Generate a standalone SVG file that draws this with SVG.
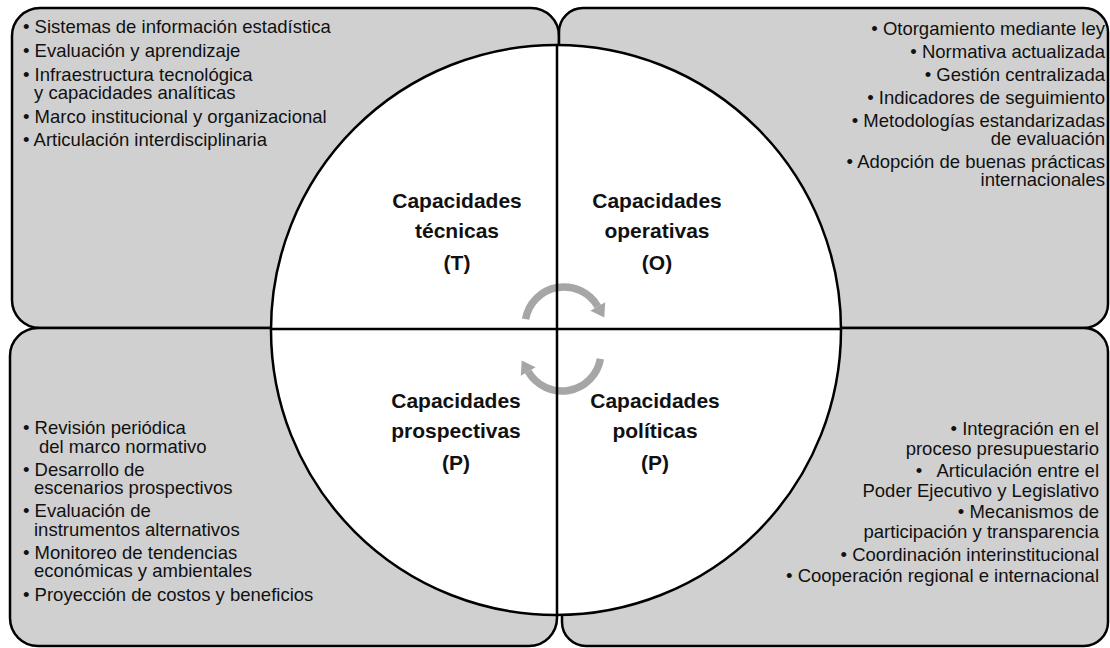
<svg xmlns="http://www.w3.org/2000/svg" width="1110" height="648" viewBox="0 0 1110 648">
<style>
.box{fill:#d0d0d0;stroke:#000;stroke-width:2.5}
.circ{fill:#fff;stroke:#000;stroke-width:2.5}
.axis{stroke:#000;stroke-width:2.5;fill:none}
.arc{fill:none;stroke:#a6a6a6;stroke-width:7.5}
.head{fill:#a6a6a6}
.t{font-family:"Liberation Sans",Arial,sans-serif;font-size:18.5px;fill:#111}
.r{text-anchor:end}
.lbl{font-family:"Liberation Sans",Arial,sans-serif;font-size:21px;font-weight:bold;fill:#111;text-anchor:middle}
</style>
<rect width="1110" height="648" fill="#fff"/>
<g id="box-tecnicas">
<rect class="box" x="12" y="8" width="547" height="320" rx="28"/>
</g>
<g id="box-operativas">
<rect class="box" x="559" y="8" width="549" height="320" rx="24"/>
</g>
<g id="box-prospectivas">
<rect class="box" x="10" y="328" width="547" height="318" rx="28"/>
</g>
<g id="box-politicas">
<rect class="box" x="562" y="328" width="546" height="318" rx="24"/>
</g>
<g id="circle">
<circle class="circ" cx="556" cy="330" r="285"/>
</g>
<g id="connectors">
<path class="arc" d="M525.6,319.2 A39,39 0 0 1 597.8,306.5"/>
<polygon class="head" points="604.3,317.5 605.2,302.3 590.4,310.8"/>
<path class="arc" d="M600.4,358.8 A39,39 0 0 1 528.2,371.5"/>
<polygon class="head" points="521.7,360.5 520.8,375.7 535.6,367.2"/>
</g>
<g id="axes">
<line class="axis" x1="557" y1="45" x2="557" y2="615"/>
<line class="axis" x1="271" y1="329" x2="841" y2="329"/>
</g>
<g id="text-tecnicas" class="t">
<text x="23" y="33">• Sistemas de información estadística</text>
<text x="23" y="57">• Evaluación y aprendizaje</text>
<text x="23" y="81">• Infraestructura tecnológica<tspan x="34" y="99">y capacidades analíticas</tspan></text>
<text x="23" y="123">• Marco institucional y organizacional</text>
<text x="23" y="146">• Articulación interdisciplinaria</text>
</g>
<g id="text-operativas" class="t r">
<text x="1105" y="35">• Otorgamiento mediante ley</text>
<text x="1105" y="58">• Normativa actualizada</text>
<text x="1105" y="81">• Gestión centralizada</text>
<text x="1105" y="104">• Indicadores de seguimiento</text>
<text x="1105" y="127">• Metodologías estandarizadas<tspan x="1105" y="145">de evaluación</tspan></text>
<text x="1105" y="168">• Adopción de buenas prácticas<tspan x="1105" y="186">internacionales</tspan></text>
</g>
<g id="text-prospectivas" class="t">
<text x="23" y="434">• Revisión periódica<tspan x="39" y="453">del marco normativo</tspan></text>
<text x="23" y="476">• Desarrollo de<tspan x="34" y="494">escenarios prospectivos</tspan></text>
<text x="23" y="517">• Evaluación de<tspan x="34" y="536">instrumentos alternativos</tspan></text>
<text x="23" y="559">• Monitoreo de tendencias<tspan x="34" y="577">económicas y ambientales</tspan></text>
<text x="23" y="601">• Proyección de costos y beneficios</text>
</g>
<g id="text-politicas" class="t r">
<text x="1099" y="435">• Integración en el<tspan x="1099" y="455">proceso presupuestario</tspan></text>
<text x="1099" y="477" xml:space="preserve">•   Articulación entre el<tspan x="1099" y="497">Poder Ejecutivo y Legislativo</tspan></text>
<text x="1099" y="518">• Mecanismos de<tspan x="1099" y="538">participación y transparencia</tspan></text>
<text x="1099" y="561">• Coordinación interinstitucional</text>
<text x="1099" y="582">• Cooperación regional e internacional</text>
</g>
<g id="label-tecnicas" class="lbl">
<text x="457" y="208">Capacidades</text>
<text x="457" y="238">técnicas</text>
<text x="457" y="270">(T)</text>
</g>
<g id="label-operativas" class="lbl">
<text x="657" y="208">Capacidades</text>
<text x="657" y="238">operativas</text>
<text x="657" y="270">(O)</text>
</g>
<g id="label-prospectivas" class="lbl">
<text x="456" y="408">Capacidades</text>
<text x="456" y="438">prospectivas</text>
<text x="456" y="470">(P)</text>
</g>
<g id="label-politicas" class="lbl">
<text x="655" y="408">Capacidades</text>
<text x="655" y="438">políticas</text>
<text x="655" y="470">(P)</text>
</g>
</svg>
